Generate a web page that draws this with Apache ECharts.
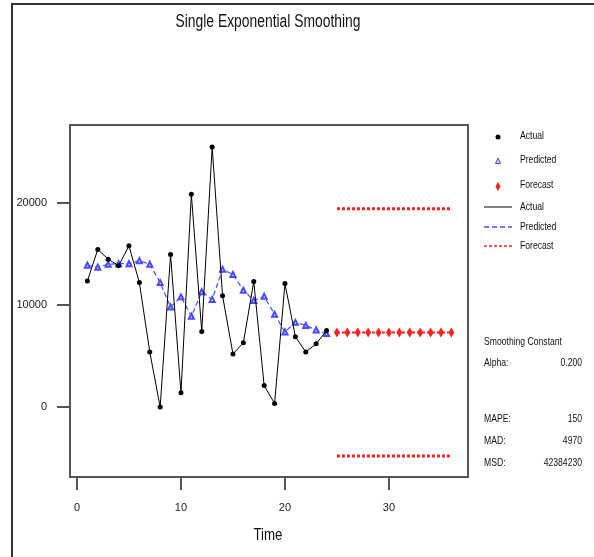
<!DOCTYPE html>
<html>
<head>
<meta charset="utf-8">
<script src="https://cdn.jsdelivr.net/npm/echarts@6/dist/echarts.min.js"></script>
<style>
  html, body { margin: 0; padding: 0; background: #fff; }
  #chartDiv { width: 594px; height: 557px; }
</style>
</head>
<body>
<div id="chartDiv"></div>
<script>
var time = [1, 2, 3, 4, 5, 6, 7, 8, 9, 10, 11, 12, 13, 14, 15, 16, 17, 18, 19, 20, 21, 22, 23, 24];
var actual = [12350, 15450, 14500, 13850, 15800, 12200, 5400, 0, 14950, 1400, 20850, 7400, 25500, 10900, 5200, 6300, 12300, 2100, 350, 12100, 6900, 5400, 6200, 7500];
var predicted = [13900, 13700, 14000, 14050, 14050, 14350, 14000, 12200, 9800, 10800, 8900, 11300, 10550, 13500, 13000, 11450, 10450, 10850, 9100, 7350, 8300, 8000, 7550, 7200];
var forecastTime = [25, 26, 27, 28, 29, 30, 31, 32, 33, 34, 35, 36];
var forecast = [7300, 7300, 7300, 7300, 7300, 7300, 7300, 7300, 7300, 7300, 7300, 7300];
var upper = [19450, 19450, 19450, 19450, 19450, 19450, 19450, 19450, 19450, 19450, 19450, 19450];
var lower = [-4800, -4800, -4800, -4800, -4800, -4800, -4800, -4800, -4800, -4800, -4800, -4800];
var xTicks = [0, 10, 20, 30];
var yTicks = [0, 10000, 20000];
var statLabels = ['MAPE:', 'MAD:', 'MSD:'];
var statValues = ['150', '4970', '42384230'];

var FONT = '"Liberation Sans", Arial, sans-serif';
var BLUE = '#4a4aff';
var RED = '#ff2020';
var TXT = '#111';

function pairs(xs, ys) {
    var out = [];
    for (var i = 0; i < xs.length; i++) out.push([xs[i], ys[i]]);
    return out;
}

// squeezed text like the original (narrow look)
function label(text, x, y, size, align, sx) {
    return {
        type: 'text', x: x, y: y, scaleX: sx || 0.82,
        style: {text: text, font: size + 'px ' + FONT, fill: TXT, align: align || 'left', verticalAlign: 'middle'}
    };
}

var myChart = echarts.init(document.getElementById('chartDiv'));

var graphics = [
    {type: 'circle', shape: {cx: 498, cy: 137, r: 2.5}, style: {fill: '#000'}},
    {type: 'polygon', shape: {points: [[498, 158], [495.5, 163.5], [500.5, 163.5]]}, style: {fill: '#dde', stroke: BLUE, lineWidth: 1}},
    {type: 'polygon', shape: {points: [[498, 182], [500.5, 186.5], [498, 191], [495.5, 186.5]]}, style: {fill: RED}},
    {type: 'line', shape: {x1: 484, y1: 207, x2: 512, y2: 207}, style: {stroke: '#000', lineWidth: 1}},
    {type: 'line', shape: {x1: 484, y1: 227, x2: 512, y2: 227}, style: {stroke: BLUE, lineWidth: 1.5, lineDash: [5, 3]}},
    {type: 'line', shape: {x1: 484, y1: 246, x2: 512, y2: 246}, style: {stroke: RED, lineWidth: 1.5, lineDash: [3, 2]}}
];
var legendNames = [['Actual', 136], ['Predicted', 160], ['Forecast', 185], ['Actual', 207], ['Predicted', 227], ['Forecast', 246]];
legendNames.forEach(function (n) {
    graphics.push(label(n[0], 520, n[1], 10.5));
});
graphics.push(label('Smoothing Constant', 484, 342, 10.5));
graphics.push(label('Alpha:', 484, 363, 10.5));
graphics.push(label('0.200', 582, 363, 10.5, 'right'));
for (var i = 0; i < statLabels.length; i++) {
    var yy = 419 + i * 22;
    graphics.push(label(statLabels[i], 484, yy, 10.5));
    graphics.push(label(statValues[i], 582, yy, 10.5, 'right'));
}
// title and x axis name
graphics.push(label('Single Exponential Smoothing', 268, 22, 18, 'center', 0.77));
graphics.push(label('Time', 268, 535, 17, 'center', 0.78));
// outer frame (only top and left edges show)
graphics.push({type: 'polyline', shape: {points: [[12, 557], [12, 4], [594, 4]]}, style: {stroke: '#333', lineWidth: 2, fill: null}});

myChart.setOption({
    animation: false,
    backgroundColor: '#fff',
    grid: {
        left: 70, top: 125, right: 126, bottom: 80,
        show: true, borderColor: '#555', borderWidth: 2, backgroundColor: 'transparent'
    },
    xAxis: {
        type: 'value',
        min: -0.67,
        max: 37.6,
        axisLine: {show: false, onZero: false},
        splitLine: {show: false},
        axisTick: {show: true, customValues: xTicks, length: 13, lineStyle: {color: '#555', width: 2}},
        axisLabel: {customValues: xTicks, margin: 25, fontFamily: FONT, fontSize: 11, color: '#222'}
    },
    yAxis: {
        type: 'value',
        min: -6860,
        max: 27650,
        axisLine: {show: false, onZero: false},
        splitLine: {show: false},
        axisTick: {show: true, customValues: yTicks, length: 13, lineStyle: {color: '#555', width: 2}},
        axisLabel: {
            customValues: yTicks, margin: 23, fontFamily: FONT, fontSize: 11, color: '#222',
            formatter: function (v) { return String(v); }
        }
    },
    graphic: graphics,
    series: [
        {
            name: 'Predicted', type: 'line', data: pairs(time, predicted),
            symbol: 'emptyTriangle', symbolSize: 5,
            itemStyle: {color: BLUE, borderWidth: 1},
            lineStyle: {color: BLUE, width: 1.2, type: [5, 3]}, z: 3
        },
        {
            name: 'Actual', type: 'line', data: pairs(time, actual),
            symbol: 'circle', symbolSize: 5,
            itemStyle: {color: '#000'},
            lineStyle: {color: '#000', width: 1}, z: 4
        },
        {
            name: 'Forecast', type: 'line', data: pairs(forecastTime, forecast),
            symbol: 'diamond', symbolSize: [6, 10],
            itemStyle: {color: RED},
            lineStyle: {color: RED, width: 2, type: [3, 2]}, z: 4
        },
        {
            name: 'Upper', type: 'line', data: pairs(forecastTime, upper), showSymbol: false, symbol: 'none',
            lineStyle: {color: RED, width: 3, type: [3, 2]}
        },
        {
            name: 'Lower', type: 'line', data: pairs(forecastTime, lower), showSymbol: false, symbol: 'none',
            lineStyle: {color: RED, width: 3, type: [3, 2]}
        }
    ]
});
window.onresize = myChart.resize;
</script>
</body>
</html>
